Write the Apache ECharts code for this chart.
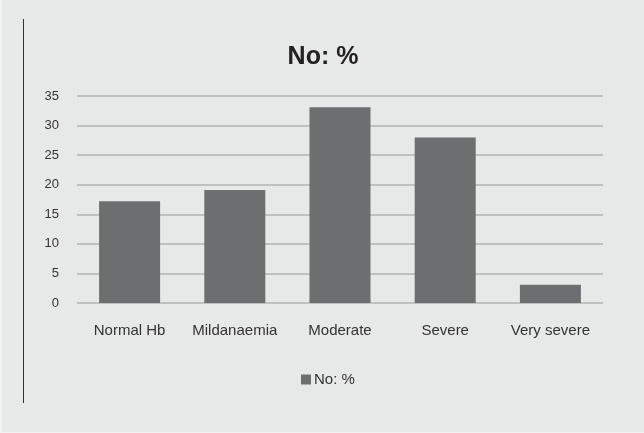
<!DOCTYPE html>
<html>
<head>
<meta charset="utf-8">
<script src="https://cdn.jsdelivr.net/npm/echarts@6/dist/echarts.min.js"></script>
<style>
  html, body { margin: 0; padding: 0; background: #f2f2f2; }
  #chart { position: absolute; left: 2px; top: 0; width: 642px; height: 432px; }
</style>
</head>
<body>
<div id="chart"></div>
<script>
// Haemoglobin grade distribution
const categories = ['Normal Hb', 'Mildanaemia', 'Moderate', 'Severe', 'Very severe'];
const percentValues = [17.2, 19.1, 33.1, 28, 3.1];
const seriesName = 'No: %';

const chart = echarts.init(document.getElementById('chart'), null, { renderer: 'canvas' });
const font = 'Liberation Sans, Arial, sans-serif';

chart.setOption({
  backgroundColor: '#e7e8e8',
  animation: false,
  textStyle: { fontFamily: font },
  title: {
    text: seriesName,
    left: 'center',
    top: 40,
    textStyle: { fontFamily: font, fontSize: 25, fontWeight: 'bold', color: '#222' }
  },
  legend: {
    data: [seriesName],
    top: 372,
    left: 299,
    padding: 0,
    icon: 'rect',
    itemWidth: 10,
    itemHeight: 10,
    itemGap: 4,
    textStyle: { fontFamily: font, fontSize: 15, color: '#333', padding: [0, 0, 0, -2] }
  },
  graphic: [{
    type: 'line',
    shape: { x1: 21.5, y1: 19, x2: 21.5, y2: 403 },
    style: { stroke: '#333', lineWidth: 1 }
  }],
  grid: { left: 75, right: 41, top: 96, bottom: 129 },
  xAxis: {
    type: 'category',
    data: categories,
    axisLine: { show: false },
    axisTick: { show: false },
    axisLabel: { interval: 0, hideOverlap: false, fontFamily: font, fontSize: 15, color: '#333', margin: 20 }
  },
  yAxis: {
    type: 'value',
    min: 0,
    max: 35,
    interval: 5,
    axisLine: { show: false },
    axisTick: { show: false },
    axisLabel: { fontFamily: font, fontSize: 13, color: '#333', margin: 18 },
    splitLine: { lineStyle: { color: '#bfc0c0', width: 2 } }
  },
  series: [{
    name: seriesName,
    type: 'bar',
    data: percentValues,
    barWidth: '58%',
    itemStyle: { color: '#6d6e6f' }
  }]
});
</script>
</body>
</html>
